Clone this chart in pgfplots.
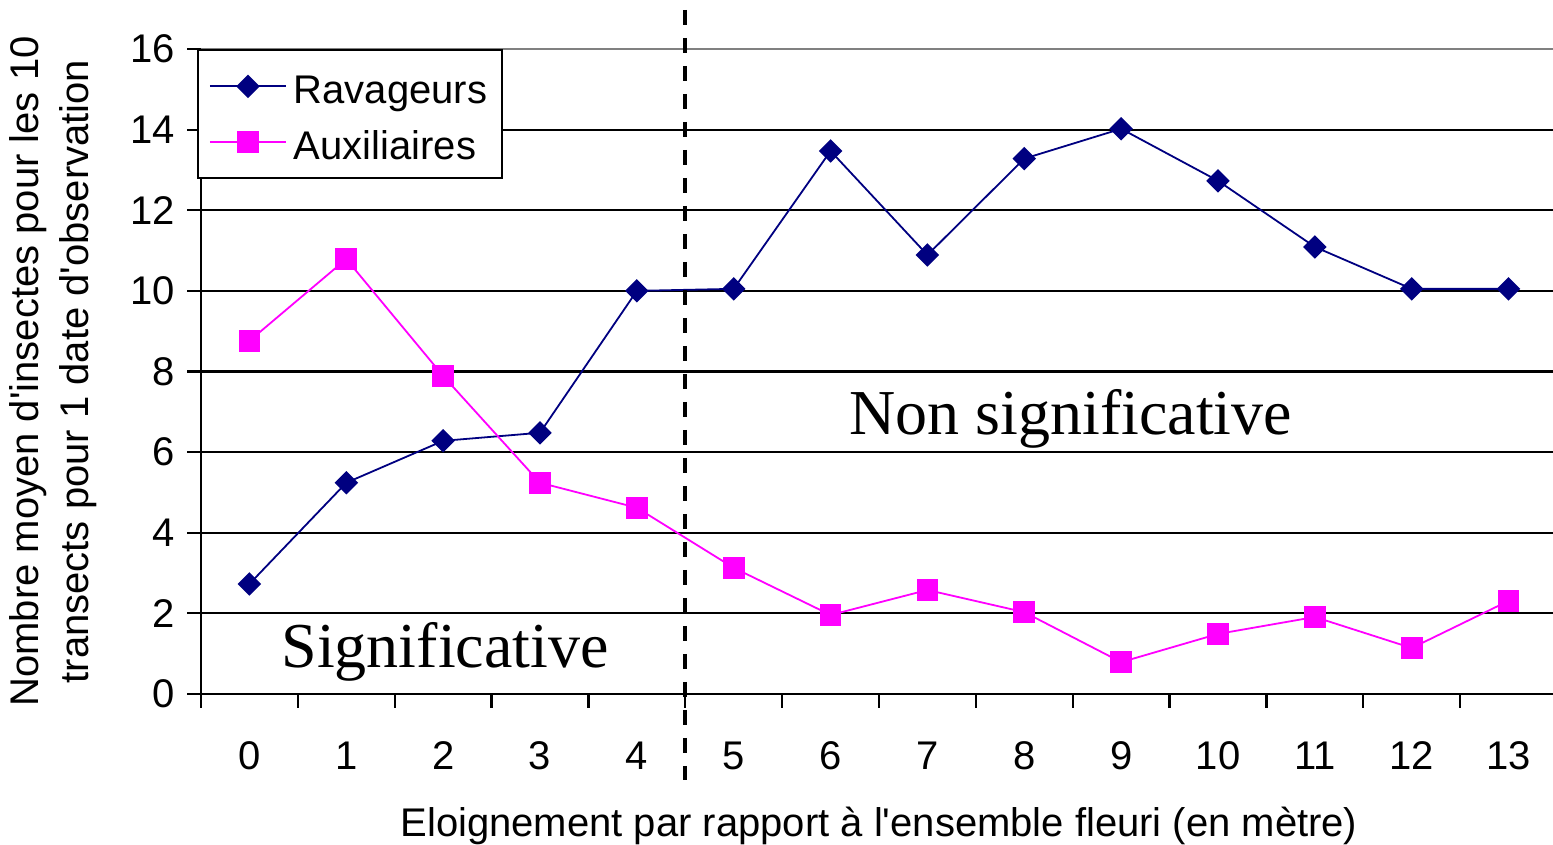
\documentclass[border=0pt]{standalone}
\usepackage{pgfplots}
\pgfplotsset{compat=1.18}
\usepackage{fontspec}
\setmainfont{Liberation Sans}[Ligatures=TeXOff]
\newfontfamily\timesfont{Liberation Serif}
\definecolor{rav}{RGB}{0,0,128}
\definecolor{aux}{RGB}{255,0,255}
\definecolor{topgrid}{RGB}{128,128,128}

\pgfplotstableread{
x rav aux
0 2.73 8.76
1 5.24 10.79
2 6.28 7.89
3 6.48 5.24
4 10.00 4.62
5 10.05 3.13
6 13.47 1.96
7 10.89 2.58
8 13.28 2.03
9 14.02 0.79
10 12.73 1.49
11 11.09 1.91
12 10.05 1.14
13 10.05 2.31
}\datatable

\begin{document}
\begin{tikzpicture}[font=\fontsize{20}{24}\selectfont]
\useasboundingbox (-100.5pt,-75.5pt) rectangle (676pt,347pt);
\begin{axis}[
  at={(0,0)}, anchor=south west,
  scale only axis, width=678pt, height=322.5pt,
  xmin=-0.5, xmax=13.5, ymin=0, ymax=16,
  clip=false,
  axis lines*=left,
  axis line style={line width=1.1pt, black},
  xtick={0,...,13},
  minor xtick={-0.5,0.5,...,13.5},
  major x tick style={draw=none},
  minor x tick style={line width=1.1pt, black},
  minor tick length=7pt,
  major tick length=7pt,
  tick align=outside,
  ytick={0,2,...,14},
  extra y ticks={16},
  extra y tick style={major grid style={line width=1.1pt, topgrid}},
  y tick style={line width=1.1pt, black},
  ymajorgrids,
  major grid style={line width=1.1pt, black},
  /pgf/number format/assume math mode=true,
  xticklabel style={anchor=north, yshift=-13.5pt},
  yticklabel style={anchor=east, xshift=-2.5pt},
  xlabel={Eloignement par rapport à l'ensemble fleuri (en mètre)},
  xlabel style={at={(axis description cs:0.5,0)}, anchor=base, yshift=-71.5pt},
  ylabel={Nombre moyen d'insectes pour les 10\\transects pour 1 date d'observation},
  ylabel style={align=center, font=\fontsize{20}{25}\selectfont, at={(axis description cs:-0.0767,0.5)}, anchor=south, inner sep=0pt},
  legend style={at={(axis description cs:-0.003,1)}, anchor=north west, draw=black, line width=1.1pt, fill=white, inner xsep=5.5pt, inner ysep=6pt, row sep=3.5pt, column sep=1.5pt, nodes={inner sep=2pt}},
  legend cell align=left,
  legend image code/.code={\draw[mark repeat=2, mark phase=2, #1] plot coordinates {(0pt,0pt) (19pt,0pt) (38pt,0pt)};},
]
\addplot[rav, line width=0.9pt, mark=square*, mark size=3.7pt, mark options={rotate=45, fill=rav, draw=rav}] table[x=x, y=rav] {\datatable};
\addlegendentry{\rule{0pt}{18.8pt}Ravageurs}
\addplot[aux, line width=0.9pt, mark=square*, mark size=5pt, mark options={fill=aux, draw=aux}] table[x=x, y=aux] {\datatable};
\addlegendentry{\rule{0pt}{18.8pt}Auxiliaires}
\draw[black, line width=1.8pt, dash pattern=on 7.5pt off 6.5pt] (axis cs:4.5,16.97) -- (axis cs:4.5,-2.13);
\node[font=\timesfont\fontsize{32}{36}\selectfont, anchor=base] at (axis cs:2.02,0.65) {Significative};
\node[font=\timesfont\fontsize{32}{36}\selectfont, anchor=base] at (axis cs:8.48,6.43) {Non significative};
\end{axis}
\end{tikzpicture}
\end{document}
